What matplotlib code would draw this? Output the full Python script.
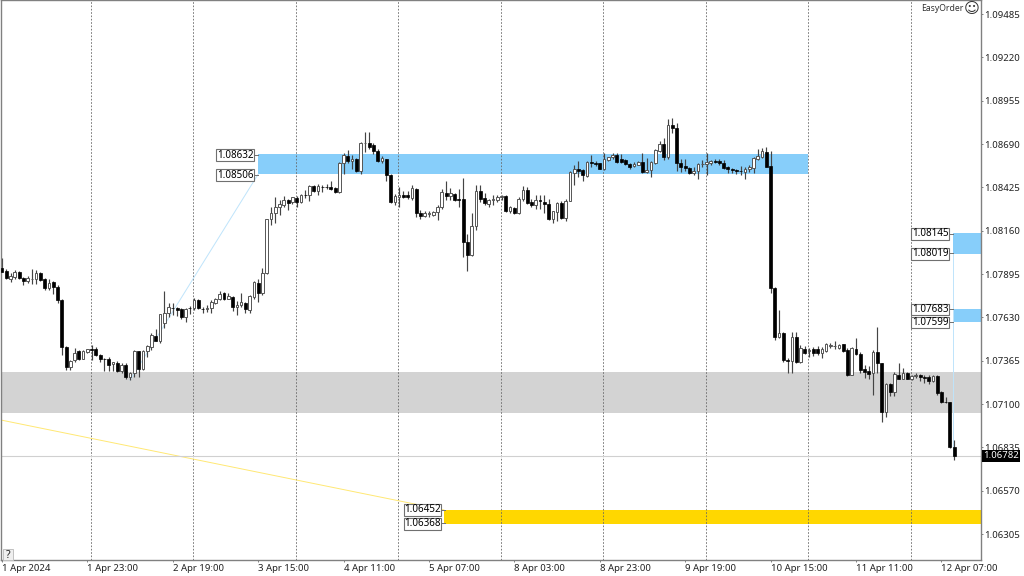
import numpy as np
import matplotlib
matplotlib.use("Agg")
import matplotlib.pyplot as plt
from matplotlib.patches import Rectangle

opens = [107930,107915,107862,107879,107907,107870,107850,107862,107862,107903,
107862,107809,107846,107817,107736,107446,107328,107369,107422,107377,
107418,107434,107436,107401,107375,107373,107344,107352,107299,107336,
107267,107287,107422,107316,107422,107450,107518,107487,107593,107654,
107689,107685,107679,107632,107689,107685,107736,107683,107683,107685,
107719,107744,107777,107744,107756,107695,107703,107719,107675,107756,
107842,107777,107899,108229,108266,108307,108319,108347,108333,108360,
108335,108380,108380,108433,108405,108429,108429,108429,108421,108396,
108572,108617,108584,108598,108527,108696,108698,108682,108649,108588,
108598,108500,108335,108368,108380,108376,108362,108415,108266,108250,
108264,108258,108274,108303,108392,108372,108384,108352,108352,108092,
108011,108188,108402,108360,108323,108349,108347,108364,108374,108278,
108298,108266,108351,108408,108335,108319,108347,108337,108323,108233,
108276,108327,108235,108343,108514,108539,108529,108496,108582,108576,
108572,108537,108594,108610,108625,108598,108594,108568,108553,108563,
108580,108517,108533,108572,108649,108690,108612,108806,108786,108576,
108555,108543,108510,108525,108568,108565,108574,108588,108584,108576,
108551,108535,108531,108527,108519,108535,108543,108600,108612,108641,
108555,107807,107511,107536,107368,107364,107507,107360,107436,107423,
107436,107434,107413,107426,107456,107452,107442,107466,107432,107279,
107434,107405,107313,107299,107287,107421,107348,107052,107222,107175,
107279,107254,107291,107252,107270,107279,107266,107266,107240,107270,
107173,107113,107111,106838]
highs = [107991,107923,107899,107919,107915,107879,107883,107923,107919,107909,
107868,107862,107854,107828,107740,107454,107369,107440,107430,107430,
107438,107462,107446,107405,107379,107385,107358,107365,107348,107348,
107295,107430,107426,107430,107462,107532,107560,107650,107793,107719,
107715,107691,107685,107685,107699,107746,107740,107695,107705,107736,
107748,107793,107785,107777,107760,107728,107777,107724,107766,107854,
107862,107930,108233,108303,108364,108347,108372,108352,108368,108372,
108384,108409,108437,108441,108445,108437,108445,108462,108429,108580,
108633,108653,108621,108602,108702,108766,108764,108694,108657,108617,
108600,108507,108384,108429,108400,108405,108437,108421,108286,108282,
108282,108282,108315,108413,108466,108419,108392,108413,108480,108139,
108266,108437,108439,108388,108352,108376,108376,108380,108378,108311,
108303,108364,108433,108425,108351,108376,108376,108376,108351,108282,
108337,108343,108351,108525,108561,108588,108535,108588,108623,108584,
108576,108633,108612,108633,108633,108629,108600,108576,108580,108584,
108633,108602,108584,108657,108710,108725,108841,108847,108820,108596,
108596,108551,108547,108572,108592,108633,108592,108598,108596,108592,
108555,108541,108539,108555,108547,108559,108608,108657,108665,108670,
108649,107813,107674,107542,107379,107542,107542,107460,107456,107440,
107450,107454,107446,107474,107474,107487,107466,107470,107440,107450,
107501,107419,107338,107332,107430,107568,107352,107226,107230,107297,
107348,107323,107295,107279,107287,107283,107277,107275,107277,107275,
107177,107144,107115,106879]
lows = [107909,107862,107848,107862,107862,107830,107842,107834,107834,107854,
107797,107797,107773,107715,107399,107311,107311,107358,107369,107373,
107413,107369,107393,107356,107299,107299,107299,107295,107291,107254,
107246,107267,107263,107307,107389,107430,107483,107475,107562,107634,
107644,107638,107618,107603,107650,107675,107681,107658,107662,107658,
107711,107736,107736,107740,107671,107642,107691,107654,107658,107740,
107726,107766,107894,108192,108205,108254,108303,108286,108323,108303,
108331,108360,108343,108396,108380,108396,108417,108409,108388,108392,
108507,108572,108535,108519,108507,108641,108662,108629,108580,108572,
108462,108331,108315,108307,108360,108356,108347,108245,108229,108241,
108245,108250,108225,108294,108347,108347,108339,108307,108001,107915,
108005,108164,108337,108315,108303,108319,108335,108347,108274,108270,
108262,108262,108343,108323,108306,108290,108294,108270,108225,108209,
108221,108229,108217,108339,108439,108490,108466,108490,108551,108555,
108535,108531,108588,108596,108576,108572,108561,108535,108547,108559,
108510,108510,108490,108568,108643,108592,108596,108759,108527,108521,
108527,108506,108498,108478,108551,108500,108561,108572,108561,108539,
108510,108514,108506,108502,108478,108519,108514,108592,108602,108547,
107780,107491,107501,107358,107287,107291,107352,107352,107405,107385,
107393,107399,107381,107419,107444,107438,107438,107421,107270,107275,
107397,107291,107262,107256,107154,107287,106991,107022,107148,107148,
107250,107250,107250,107246,107258,107242,107226,107222,107234,107154,
107107,107107,106834,106756]
closes = [107909,107868,107883,107905,107870,107854,107870,107866,107899,107858,
107809,107842,107817,107736,107446,107324,107365,107413,107377,107422,
107434,107432,107401,107373,107373,107340,107354,107299,107336,107263,
107291,107426,107316,107426,107454,107520,107487,107650,107658,107691,
107685,107675,107630,107681,107687,107736,107685,107679,107687,107724,
107744,107773,107740,107760,107695,107707,107722,107679,107760,107846,
107781,107899,108229,108270,108307,108323,108347,108331,108364,108335,
108380,108376,108433,108405,108431,108427,108427,108417,108396,108572,
108621,108584,108600,108523,108696,108698,108674,108645,108588,108602,
108502,108335,108372,108380,108364,108364,108419,108266,108252,108268,
108266,108276,108303,108394,108372,108388,108347,108347,108092,108011,
108188,108402,108356,108327,108347,108354,108368,108372,108278,108303,
108270,108356,108408,108331,108315,108347,108339,108323,108233,108278,
108327,108235,108343,108521,108539,108527,108500,108582,108572,108568,
108539,108596,108608,108625,108582,108580,108565,108551,108568,108580,
108519,108533,108580,108653,108690,108612,108808,108786,108572,108551,
108543,108514,108527,108565,108570,108580,108588,108580,108572,108543,
108535,108531,108527,108523,108535,108551,108604,108616,108645,108551,
107807,107511,107532,107368,107362,107507,107360,107440,107415,107428,
107413,107413,107434,107466,107458,107454,107462,107426,107277,107440,
107405,107307,107295,107283,107417,107348,107052,107222,107175,107283,
107254,107287,107254,107270,107279,107266,107262,107242,107270,107168,
107111,107111,106838,106782]

x_tick_bars = [0, 20, 40, 60, 80, 100, 120, 140, 160, 180, 200, 220]
x_tick_labels = ["1 Apr 2024", "1 Apr 23:00", "2 Apr 19:00", "3 Apr 15:00", "4 Apr 11:00",
                 "5 Apr 07:00", "8 Apr 03:00", "8 Apr 23:00", "9 Apr 19:00", "10 Apr 15:00",
                 "11 Apr 11:00", "12 Apr 07:00"]
y_ticks = [1.09485, 1.09220, 1.08955, 1.08690, 1.08425, 1.08160, 1.07895, 1.07630,
           1.07365, 1.07100, 1.06835, 1.06570, 1.06305]
separator_bars = [21, 45, 69, 93, 117, 141, 165, 189, 213]
last_price = 1.06782
blue_zone = (1.08506, 1.08632, 60.0, 188.8)
blue_zone_2 = (1.08019, 1.08145, 222.8)
blue_zone_3 = (1.07599, 1.07683, 222.8)
gray_zone = (1.07045, 1.07296)
gold_zone = (1.06368, 1.06452, 103.5)

FONT = ["Noto Sans", "DejaVu Sans"]
W, H = 1024, 576
PLOT_R, PLOT_B = 981, 560
fig = plt.figure(figsize=(W / 100, H / 100), dpi=100, facecolor="white")
ax = fig.add_axes([1 / W, 1 - PLOT_B / H, (PLOT_R - 1) / W, PLOT_B / H])

PX_PER_BAR = 4.27
ax.set_xlim((1 - 2) / PX_PER_BAR, (PLOT_R - 2) / PX_PER_BAR)
ax.set_ylim(1.06146, 1.09571)

o, h, l, c = [np.array(a) / 1e5 for a in (opens, highs, lows, closes)]
idx = np.arange(len(o))
xmax = ax.get_xlim()[1]
xmin = ax.get_xlim()[0]

# zones
ax.add_patch(Rectangle((xmin, gray_zone[0]), xmax - xmin, gray_zone[1] - gray_zone[0], fc="#D3D3D3", ec="none", zorder=1))
ax.add_patch(Rectangle((blue_zone[2], blue_zone[0]), blue_zone[3] - blue_zone[2], blue_zone[1] - blue_zone[0], fc="#87CEFA", ec="none", zorder=1))
for z in (blue_zone_2, blue_zone_3):
    ax.add_patch(Rectangle((z[2], z[0]), xmax - z[2], z[1] - z[0], fc="#87CEFA", ec="none", zorder=1))
ax.add_patch(Rectangle((gold_zone[2], gold_zone[0]), xmax - gold_zone[2], gold_zone[1] - gold_zone[0], fc="#FFD700", ec="none", zorder=1))

# separators
for b in separator_bars:
    ax.axvline(b - 0.2, color="#666666", lw=0.6, ls=(0, (2, 2)), zorder=1.5)

# trend lines
ax.plot([30, 60.0], [1.07246, 1.08506], color="#BFE4FB", lw=0.7, zorder=1.6)
ax.plot([xmin, gold_zone[2]], [1.07002, gold_zone[1]], color="#FFE873", lw=0.7, zorder=1.6)
ax.plot([222.8, 222.8], [last_price, blue_zone_2[0]], color="#BFE4FB", lw=0.7, zorder=1.6)
ax.axhline(last_price, color="#D0D0D0", lw=0.8, zorder=1.6)

# candles
ax.vlines(idx, l, h, color="#444444", lw=0.85, zorder=2)
up = c >= o
ax.bar(idx[up], (c - o)[up], bottom=o[up], width=0.62, fc="white", ec="#555555", lw=0.7, zorder=3)
ax.bar(idx[~up], (o - c)[~up], bottom=c[~up], width=0.68, fc="black", ec="black", lw=0.5, zorder=3)

# axes
for s in ax.spines.values():
    s.set_color("#808080")
    s.set_linewidth(1)
ax.yaxis.tick_right()
ax.set_yticks(y_ticks)
ax.set_yticklabels([f"{v:.5f}" for v in y_ticks], fontsize=6.9, family=FONT, color="#222222")
ax.set_xticks(x_tick_bars)
ax.set_xticklabels(x_tick_labels, fontsize=6.9, family=FONT, color="#222222", ha="left")
ax.tick_params(axis="y", length=1.5, width=0.7, color="#808080", pad=1)
ax.tick_params(axis="x", length=1.5, width=0.7, color="#808080", pad=1.5)


def px(x, y):
    return x / W, 1 - y / H


def box_label(value, x0, y0, x1, y1):
    fig.add_artist(Rectangle(px(x0, y1), (x1 - x0) / W, (y1 - y0) / H, transform=fig.transFigure,
                             fc="white", ec="#707070", lw=0.8, zorder=10))
    fig.text(*px((x0 + x1) / 2, (y0 + y1) / 2), f"{value:.5f}", fontsize=7.1, family=FONT,
             color="black", ha="center", va="center", zorder=11)


box_label(blue_zone[1], 216, 149, 254, 161)
box_label(blue_zone[0], 216, 169, 254, 181)
box_label(blue_zone_2[1], 911, 228, 949, 240)
box_label(blue_zone_2[0], 911, 248, 949, 260)
box_label(blue_zone_3[1], 911, 304, 949, 315)
box_label(blue_zone_3[0], 911, 317, 949, 328)
box_label(gold_zone[1], 404, 504, 441, 516)
box_label(gold_zone[0], 404, 518, 441, 530)
for xa, xb, yv in [(254, 258, 155), (254, 258, 175), (949, 953, 234), (949, 953, 253),
                   (949, 953, 309), (949, 953, 322), (441, 445, 510), (441, 445, 523)]:
    fig.add_artist(plt.Line2D([xa / W, xb / W], [1 - yv / H] * 2, color="#707070", lw=0.7, zorder=9))

# current price tag
fig.add_artist(Rectangle(px(982, 462), 38 / W, 12 / H, transform=fig.transFigure, fc="black", ec="none", zorder=10))
fig.text(*px(1001, 456), f"{last_price:.5f}", fontsize=6.9, family=FONT, color="white", ha="center", va="center", zorder=11)

# EasyOrder, help box
fig.text(*px(964, 8.5), "EasyOrder", fontsize=6.2, family=FONT, color="#333333", ha="right", va="center")
fig.text(*px(972, 8.5), "\u263A", fontsize=11, family="DejaVu Sans", color="#333333", ha="center", va="center")
fig.add_artist(Rectangle(px(3, 560), 10 / W, 11 / H, transform=fig.transFigure, fc="#EFEFEF", ec="#C0C0C0", lw=0.7, zorder=10))
fig.text(*px(8, 555), "?", fontsize=7.5, family=FONT, color="#222222", ha="center", va="center", zorder=11)

fig.savefig("out.png", dpi=100)
